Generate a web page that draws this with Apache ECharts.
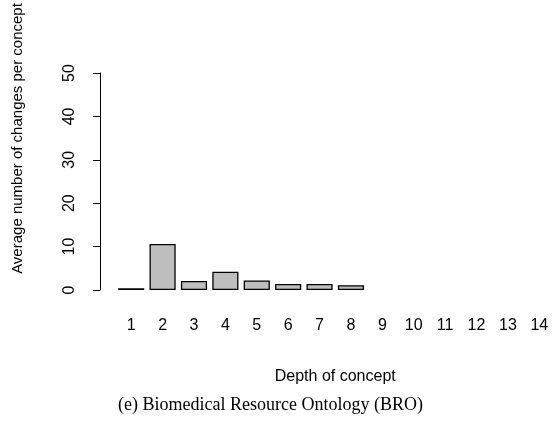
<!DOCTYPE html>
<html>
<head>
<meta charset="utf-8">
<script src="https://cdn.jsdelivr.net/npm/echarts@6/dist/echarts.min.js"></script>
<style>
html,body{margin:0;padding:0;background:#fff;}
#chart{width:555px;height:425px;}
</style>
</head>
<body>
<div id="chart"></div>
<script>
var categories = ['1','2','3','4','5','6','7','8','9','10','11','12','13','14'];
var avgChanges = [0.4, 10.6, 2.1, 4.2, 2.2, 1.4, 1.4, 1.1, null, null, null, null, null, null];
var yTicks = [0, 10, 20, 30, 40, 50];
var xTitle = 'Depth of concept';
var yTitle = 'Average number of changes per concept';
var caption = '(e) Biomedical Resource Ontology (BRO)';

var chart = echarts.init(document.getElementById('chart'));
chart.setOption({
  animation: false,
  backgroundColor: '#ffffff',
  title: {
    text: caption,
    left: 113,
    top: 391,
    textStyle: {fontFamily: 'Liberation Serif', fontSize: 18, fontWeight: 'normal', color: '#000'}
  },
  grid: {left: 115.5, right: -7.2, top: 73, bottom: 135, containLabel: false},
  xAxis: {
    type: 'category',
    data: categories,
    axisLine: {show: false},
    axisTick: {show: false},
    axisLabel: {fontFamily: 'Liberation Sans', fontSize: 16, color: '#000', margin: 28, interval: 0},
    name: xTitle,
    nameLocation: 'middle',
    nameGap: 79,
    nameTextStyle: {fontFamily: 'Liberation Sans', fontSize: 16, color: '#000'}
  },
  yAxis: {
    type: 'value',
    min: yTicks[0],
    max: yTicks[yTicks.length - 1],
    interval: 10,
    offset: 15.5,
    axisLine: {show: true, lineStyle: {color: '#000', width: 1}},
    axisTick: {show: true, length: 7, lineStyle: {color: '#000'}},
    splitLine: {show: false},
    axisLabel: {fontFamily: 'Liberation Sans', fontSize: 16, color: '#000', rotate: 90, margin: 22},
    name: yTitle,
    nameLocation: 'middle',
    nameGap: 75,
    nameTextStyle: {fontFamily: 'Liberation Sans', fontSize: 15, color: '#000', padding: [0, 0, 0, 86]}
  },
  series: [{
    type: 'bar',
    data: avgChanges,
    barWidth: '83.3%',
    itemStyle: {color: '#bebebe', borderColor: '#000', borderWidth: 1.3}
  }]
});
</script>
</body>
</html>
